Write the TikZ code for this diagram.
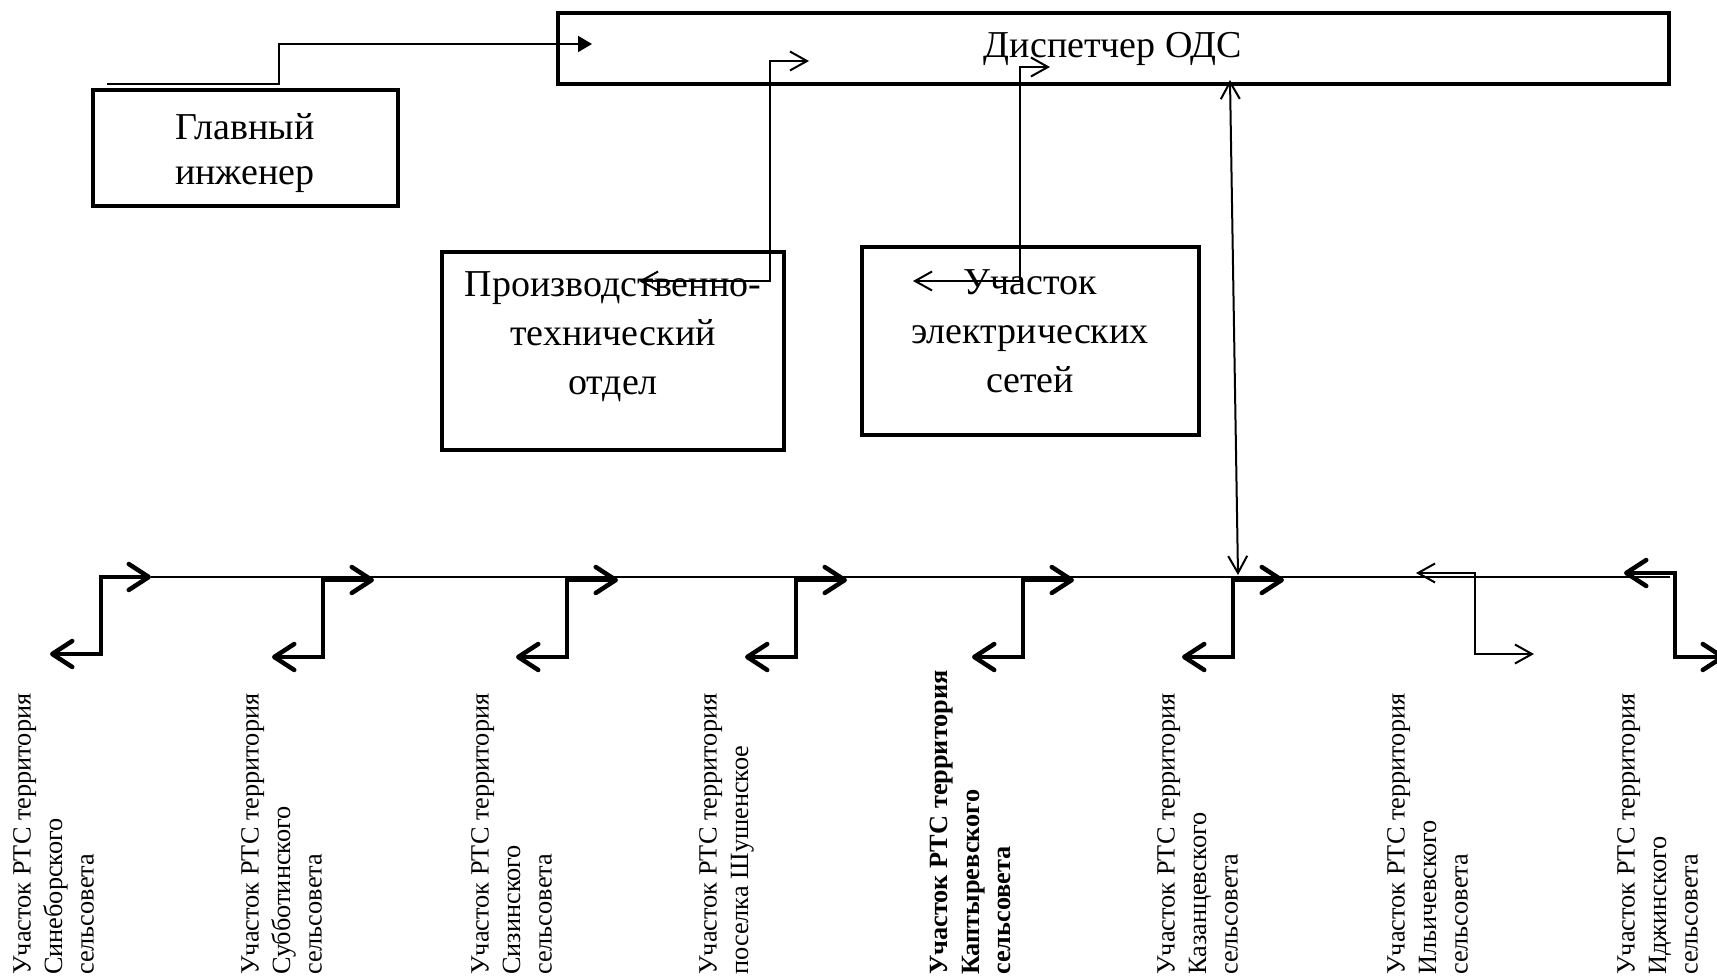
\documentclass[tikz,border=0pt]{standalone}
\usepackage{fontspec}
\setmainfont{Liberation Serif}
\usetikzlibrary{arrows.meta}

\begin{document}
\begin{tikzpicture}[x=1pt, y=-1pt,
    box/.style={draw, line width=4pt, inner sep=0pt, align=center, font=\fontsize{38}{45}\selectfont},
    boxtext/.style={inner sep=0pt, align=center, font=\fontsize{38}{49}\selectfont},
    link/.style={line width=2pt, {Straight Barb[length=17pt,width=19pt]}-{Straight Barb[length=17pt,width=19pt]}},
    feed/.style={line width=4.5pt, line join=miter, {Straight Barb[length=20pt,width=26pt,round]}-{Straight Barb[length=20pt,width=26pt,round]}},
    site/.style={rotate=90, anchor=north west, inner sep=0pt, align=left, font=\fontsize{26.3}{31.5}\selectfont}]
    \useasboundingbox (0,0) rectangle (1717,979);

    \node[box, minimum width=1111, minimum height=71] (ods) at (1113,49) {Диспетчер ОДС};
    \node[box, minimum width=305, minimum height=115] (glav) at (245,148) {};
    \node[boxtext, font=\fontsize{38}{45}\selectfont] (glavtext) at (245,153) {Главный\\инженер};
    \node[box, minimum width=342, minimum height=198] (pto) at (613,351) {};
    \node[boxtext] (ptotext) at (613,337) {Производственно-\\технический\\отдел};
    \node[box, minimum width=337, minimum height=188] (ues) at (1030,341) {};
    \node[boxtext] (uestext) at (1030,331) {Участок\\электрических\\сетей};

    \coordinate (glavout) at (107,84);
    \coordinate (odsin) at (592,44);
    \draw[line width=2pt, -{Triangle[length=14pt,width=16pt]}] (glavout) -- (279,84) -- (279,44) -- (odsin);

    \coordinate (ptoin) at (639,281);
    \coordinate (odspto) at (809,61);
    \draw[link] (ptoin) -| ([xshift=-39]odspto) -- (odspto);

    \coordinate (uesin) at (913,281);
    \coordinate (odsues) at (1050,67);
    \draw[link] (uesin) -| ([xshift=-30]odsues) -- (odsues);

    \coordinate (odsbus) at (1230,80);
    \coordinate (busin) at (1238,575);
    \draw[link] (odsbus) -- (busin);

    \coordinate (busl) at (151,577);
    \coordinate (busr) at (1670,577);
    \draw[line width=2pt] (busl) -- (busr);

    \draw[feed] (50,654) -- (101,654) -- (101,577) -- (151,577);
    \foreach \xv in {323, 567, 796, 1023, 1233} {
        \draw[feed] ({\xv-51},657) -- (\xv,657) -- (\xv,580) -- ({\xv+51},580);
    }
    \draw[link] (1416,573) -- (1475,573) -- (1475,654) -- (1534,654);
    \draw[feed] (1624,573) -- (1675,573) -- (1675,657) -- (1725,657);

    \node[site] (s1) at (13,975) {Участок РТС территория\\Синеборского\\сельсовета};
    \node[site] (s2) at (241,975) {Участок РТС территория\\Субботинского\\сельсовета};
    \node[site] (s3) at (471,975) {Участок РТС территория\\Сизинского\\сельсовета};
    \node[site] (s4) at (699,975) {Участок РТС территория\\поселка Шушенское};
    \node[site, font=\fontsize{26.3}{31.5}\selectfont\bfseries] (s5) at (930,975) {Участок РТС территория\\Каптыревского\\сельсовета};
    \node[site] (s6) at (1157,975) {Участок РТС территория\\Казанцевского\\сельсовета};
    \node[site] (s7) at (1387,975) {Участок РТС территория\\Ильичевского\\сельсовета};
    \node[site] (s8) at (1617,975) {Участок РТС территория\\Иджинского\\сельсовета};
\end{tikzpicture}
\end{document}
